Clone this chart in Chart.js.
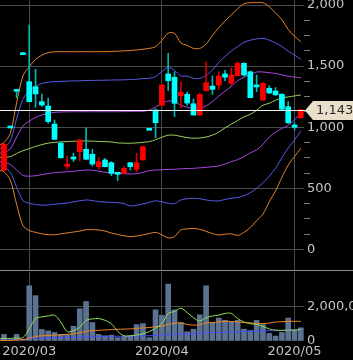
<!DOCTYPE html>
<html>
<head>
<meta charset="utf-8">
<script src="https://cdn.jsdelivr.net/npm/chart.js@4.4.1/dist/chart.umd.min.js"></script>
<style>
  html, body { margin: 0; padding: 0; background: #000; }
  #wrap { width: 353px; height: 360px; overflow: hidden; }
  canvas { display: block; }
  #sep { height: 1px; background: #8c8c8c; }
</style>
</head>
<body>
<div id="wrap">
  <canvas id="price" width="353" height="270"></canvas>
  <div id="sep"></div>
  <canvas id="vol" width="353" height="89"></canvas>
</div>
<script>
// daily candles, 2020/02/25 .. 2020/05/07 (index 0..47)
const opens  = [650, 1010, 1310, 1610, 1373, 1332, 1209, 1174, 1026, 869, 680, 751, 800, 820, 779, 677, 732, 710, 620, 623, 710, 656, 732, 991,
                1141, 1180, 1436, 1409, 1258, 1270, 1192, 1100, 1299, 1337, 1346, 1436, 1360, 1422, 1523, 1454, 1335, 1223, 1319, 1297, 1270, 1168, 1018, 1078];
const highs  = [875, 1010, 1310, 1610, 1836, 1474, 1272, 1237, 1059, 882, 765, 787, 900, 995, 820, 751, 746, 720, 625, 677, 712, 787, 845, 991,
                1150, 1350, 1605, 1454, 1370, 1290, 1231, 1280, 1536, 1420, 1454, 1465, 1482, 1536, 1530, 1460, 1427, 1365, 1340, 1324, 1275, 1209, 1037, 1143];
const lows   = [640, 1010, 1240, 1610, 1209, 1163, 1170, 1032, 898, 748, 656, 720, 726, 735, 683, 658, 675, 604, 563, 620, 650, 636, 730, 991,
                915, 1170, 1300, 1086, 1160, 1180, 1098, 1098, 1295, 1270, 1310, 1380, 1340, 1420, 1420, 1240, 1290, 1220, 1275, 1260, 1145, 1030, 977, 1075];
const closes = [860, 1010, 1310, 1610, 1209, 1272, 1182, 1046, 901, 750, 697, 740, 896, 738, 699, 718, 677, 623, 615, 664, 677, 710, 841, 991,
                1037, 1346, 1381, 1196, 1286, 1198, 1100, 1268, 1364, 1310, 1419, 1409, 1427, 1523, 1427, 1242, 1330, 1359, 1280, 1265, 1147, 1037, 1000, 1143];
const volumes = [383000, 20000, 383000, 30000, 3200000, 2630000, 669000, 590000, 495000, 383000, 383000, 857000, 1870000, 2290000, 1070000, 383000,
                 305000, 343000, 190000, 248000, 305000, 952000, 1010000, 190000, 1810000, 1490000, 3300000, 1810000, 1070000, 533000, 686000, 1520000,
                 3200000, 1070000, 1330000, 1200000, 1140000, 1200000, 686000, 610000, 1200000, 952000, 438000, 286000, 495000, 1330000, 629000, 762000];

// indicator lines, index -1 .. 47
const bandStart = -1;
const mid = [752, 755, 759, 785, 808, 825, 843, 858, 870, 876, 880, 882, 885, 887, 888, 886, 884, 882, 880, 872, 870, 869, 872, 876, 882,
             898, 918, 935, 935, 925, 915, 910, 912, 920, 935, 960, 995, 1025, 1055, 1085, 1105, 1140, 1180, 1196, 1220, 1240, 1248, 1256, 1264];
const up1 = [785, 795, 823, 920, 1010, 1050, 1080, 1100, 1115, 1122, 1125, 1126, 1127, 1127, 1127, 1127, 1127, 1127, 1127, 1127, 1128, 1129, 1130, 1130,
             1140, 1165, 1195, 1215, 1210, 1180, 1163, 1155, 1155, 1175, 1210, 1255, 1295, 1335, 1380, 1410, 1432, 1452, 1452, 1446, 1440, 1428, 1418, 1410, 1405];
const up2 = [818, 835, 885, 1070, 1230, 1300, 1335, 1358, 1368, 1373, 1375, 1377, 1379, 1380, 1382, 1383, 1384, 1385, 1386, 1387, 1388, 1390, 1393, 1398,
             1400, 1415, 1455, 1490, 1465, 1420, 1418, 1400, 1400, 1425, 1468, 1530, 1580, 1625, 1660, 1695, 1712, 1722, 1728, 1712, 1690, 1660, 1622, 1590, 1555];
const up3 = [850, 875, 950, 1200, 1420, 1495, 1555, 1590, 1610, 1617, 1618, 1618, 1618, 1618, 1618, 1618, 1618, 1618, 1620, 1622, 1625, 1628, 1632, 1638,
             1645, 1659, 1710, 1770, 1768, 1690, 1670, 1645, 1645, 1680, 1750, 1815, 1870, 1920, 1970, 2010, 2019, 2020, 2019, 1986, 1935, 1880, 1800, 1745, 1700];
const lo1 = [720, 715, 695, 650, 606, 600, 603, 612, 622, 628, 632, 636, 640, 645, 650, 648, 640, 632, 625, 623, 620, 617, 620, 630,
             645, 650, 652, 655, 656, 660, 662, 664, 668, 672, 677, 683, 700, 718, 735, 760, 790, 815, 860, 920, 960, 990, 1015, 1060, 1120];
const lo2 = [686, 675, 631, 510, 400, 378, 368, 362, 364, 370, 375, 380, 390, 398, 405, 400, 392, 388, 385, 383, 375, 356, 362, 372,
             385, 398, 390, 378, 375, 405, 415, 419, 415, 405, 399, 397, 410, 419, 425, 440, 465, 500, 545, 600, 665, 750, 830, 895, 970];
const lo3 = [653, 635, 567, 370, 196, 155, 140, 128, 122, 120, 128, 135, 143, 150, 162, 162, 160, 150, 135, 122, 112, 105, 110, 119,
             130, 140, 120, 95, 105, 160, 168, 172, 165, 148, 130, 118, 125, 128, 115, 140, 180, 235, 290, 390, 480, 590, 690, 760, 828];

const volMa5  = [120000, 150000, 150000, 170000, 190000, 700000, 1300000, 1400000, 1450000, 1500000, 1100000, 540000, 600000, 800000, 1200000, 1280000,
                 1300000, 1200000, 1000000, 560000, 300000, 300000, 350000, 420000, 540000, 750000, 1000000, 1600000, 1710000, 1900000, 1650000, 1350000,
                 1150000, 1350000, 1450000, 1500000, 1600000, 1600000, 1300000, 1100000, 1000000, 960000, 850000, 700000, 630000, 620000, 630000, 630000, 680000];
const volMa25 = [20000, 30000, 40000, 60000, 80000, 150000, 260000, 300000, 320000, 340000, 360000, 390000, 420000, 480000, 560000, 600000,
                 620000, 640000, 660000, 680000, 690000, 700000, 730000, 760000, 780000, 830000, 860000, 960000, 1030000, 1050000, 960000, 920000,
                 940000, 1050000, 1070000, 1100000, 1140000, 1130000, 1100000, 1070000, 1050000, 1020000, 1010000, 1040000, 1100000, 1120000, 1140000, 1140000, 1140000];
const volMa75 = [60000, 70000, 75000, 85000, 90000, 130000, 160000, 170000, 180000, 185000, 190000, 195000, 205000, 225000, 245000, 255000,
                 260000, 265000, 270000, 272000, 275000, 280000, 290000, 300000, 305000, 325000, 340000, 370000, 390000, 405000, 410000, 420000,
                 440000, 480000, 490000, 505000, 515000, 525000, 535000, 545000, 555000, 570000, 585000, 595000, 600000, 610000, 630000, 640000, 655000];

const monthTicks = [4, 25, 46];
const monthLabels = ['2020/03', '2020/04', '2020/05'];
const priceLabels = [0, 500, 1000, 1500, 2000];
const volLabels = [0, 2000000];
const lastPrice = closes[closes.length - 1];

const xMin = -0.63, xMax = 47.5;
const gridColor = '#4a4a4a';
const labelColor = '#c4c4c4';
const font = { family: 'DejaVu Sans', size: 13 };

const pts = (arr, start) => arr.map((v, k) => ({ x: k + start, y: v }));
const isUp = closes.map((c, k) => c > opens[k]);
const bodyColors = isUp.map(u => u ? '#ff0000' : '#00ffff');
const wickColors = isUp.map(u => u ? '#d80000' : '#00b8b8');

function xAxis(showLabels) {
  return {
    type: 'linear', min: xMin, max: xMax, offset: false,
    afterBuildTicks: a => { a.ticks = monthTicks.map(v => ({ value: v })); },
    afterFit: a => { a.paddingLeft = 0; a.paddingRight = 0; if (showLabels) a.height = 19; },
    grid: { color: gridColor, drawTicks: false, offset: false },
    border: { display: false },
    ticks: {
      display: showLabels, color: labelColor, font: font, padding: 3,
      maxRotation: 0, autoSkip: false,
      callback: v => monthLabels[monthTicks.indexOf(v)]
    }
  };
}

function line(data, color, start) {
  return {
    type: 'line', data: pts(data, start), borderColor: color, borderWidth: 1,
    pointRadius: 0, tension: 0.3, order: 2
  };
}

const lastTag = {
  id: 'lastTag',
  afterDatasetsDraw(chart) {
    const { ctx, chartArea, scales } = chart;
    const y = Math.round(scales.y.getPixelForValue(lastPrice)) + 0.5;
    ctx.save();
    ctx.strokeStyle = '#f4f4f4';
    ctx.lineWidth = 1;
    ctx.beginPath();
    ctx.moveTo(chartArea.left, y);
    ctx.lineTo(chartArea.right + 1, y);
    ctx.stroke();
    const x0 = chartArea.right + 1;
    ctx.fillStyle = '#e9dfcb';
    ctx.beginPath();
    ctx.moveTo(x0, y);
    ctx.lineTo(x0 + 8, y - 9.5);
    ctx.lineTo(353, y - 9.5);
    ctx.lineTo(353, y + 9.5);
    ctx.lineTo(x0 + 8, y + 9.5);
    ctx.closePath();
    ctx.fill();
    ctx.fillStyle = '#2a2a2a';
    ctx.font = '13px "DejaVu Sans"';
    ctx.textBaseline = 'middle';
    ctx.fillText(lastPrice.toLocaleString('en-US'), x0 + 11, y + 0.5);
    ctx.restore();
  }
};

new Chart(document.getElementById('price'), {
  type: 'bar',
  data: {
    datasets: [
      { data: closes.map((c, k) => ({ x: k, y: [opens[k], c] })), backgroundColor: bodyColors,
        barThickness: 5, minBarLength: 2, grouped: false, order: 0 },
      { data: lows.map((l, k) => ({ x: k, y: [l, highs[k]] })), backgroundColor: wickColors,
        barThickness: 1, grouped: false, order: 1 },
      line(up3, '#e8842c', bandStart),
      line(up2, '#5a5ae8', bandStart),
      line(up1, '#a848e2', bandStart),
      line(mid, '#9cd45a', bandStart),
      line(lo1, '#a848e2', bandStart),
      line(lo2, '#5a5ae8', bandStart),
      line(lo3, '#e8842c', bandStart)
    ]
  },
  options: {
    responsive: false, animation: false,
    layout: { padding: 0 },
    plugins: { legend: { display: false }, tooltip: { enabled: false } },
    scales: {
      x: xAxis(false),
      y: {
        position: 'right', min: -168, max: 2041,
        afterBuildTicks: a => { const t = []; for (let v = 0; v <= 2000; v += 125) t.push({ value: v }); a.ticks = t; },
        afterFit: a => { a.width = 49; a.paddingTop = 0; a.paddingBottom = 0; },
        grid: {
          color: c => (c.tick && priceLabels.includes(c.tick.value)) ? gridColor : 'rgba(0,0,0,0)',
          tickColor: c => (c.tick && priceLabels.includes(c.tick.value)) ? 'rgba(0,0,0,0)' : '#7a7a7a',
          tickLength: 6
        },
        border: { display: false },
        ticks: {
          color: labelColor, font: font, padding: -3, autoSkip: false,
          callback: v => priceLabels.includes(v) ? v.toLocaleString('en-US') : ''
        }
      }
    }
  },
  plugins: [lastTag]
});

new Chart(document.getElementById('vol'), {
  type: 'bar',
  data: {
    datasets: [
      line(volMa5, '#92e052', bandStart),
      line(volMa25, '#f0841e', bandStart),
      line(volMa75, '#4b4bff', bandStart),
      { data: pts(volumes, 0), backgroundColor: '#5b7391', barThickness: 5, grouped: false, order: 3 }
    ]
  },
  options: {
    responsive: false, animation: false,
    layout: { padding: { top: 1 } },
    plugins: { legend: { display: false }, tooltip: { enabled: false } },
    scales: {
      x: xAxis(true),
      y: {
        position: 'right', min: 0, max: 4000000,
        afterBuildTicks: a => { a.ticks = [0, 2000000, 4000000].map(v => ({ value: v })); },
        afterFit: a => { a.width = 49; a.paddingTop = 0; a.paddingBottom = 0; },
        grid: {
          color: c => (c.tick && c.tick.value === 2000000) ? gridColor : 'rgba(0,0,0,0)',
          tickColor: 'rgba(0,0,0,0)', tickLength: 6
        },
        border: { display: false },
        ticks: {
          color: labelColor, font: font, padding: -3, autoSkip: false,
          callback: v => volLabels.includes(v) ? v.toLocaleString('en-US') : ''
        }
      }
    }
  }
});
</script>
</body>
</html>
